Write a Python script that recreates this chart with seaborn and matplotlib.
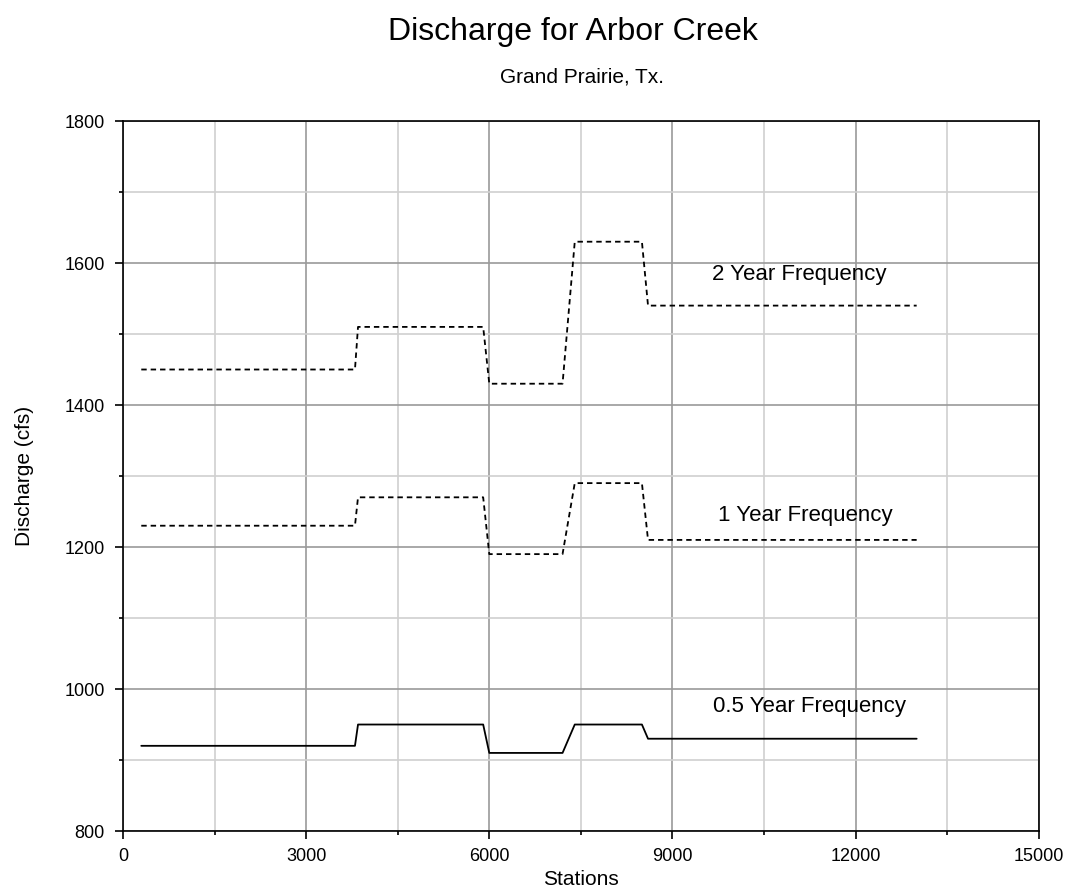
import matplotlib
matplotlib.use("Agg")
import matplotlib.pyplot as plt
from matplotlib.ticker import MultipleLocator
import seaborn as sns
import pandas as pd

stations = [300, 3800, 3850, 5900, 6000, 7200, 7400, 8500, 8600, 13000]
q_2yr = [1450, 1450, 1510, 1510, 1430, 1430, 1630, 1630, 1540, 1540]
q_1yr = [1230, 1230, 1270, 1270, 1190, 1190, 1290, 1290, 1210, 1210]
q_05yr = [920, 920, 950, 950, 910, 910, 950, 950, 930, 930]
series_names = ["2 Year Frequency", "1 Year Frequency", "0.5 Year Frequency"]
label_x = [11070, 11170, 11250]
label_y = [1584, 1244, 975]

sns.set_style("white")
plt.rcParams['font.family'] = ['Liberation Sans', 'DejaVu Sans']
plt.rcParams['text.color'] = 'black'
plt.rcParams['axes.labelcolor'] = 'black'
plt.rcParams['xtick.color'] = 'black'
plt.rcParams['ytick.color'] = 'black'

fig = plt.figure(figsize=(10.72, 8.93), dpi=100)
ax = fig.add_axes([0.1147, 0.0694, 0.969 - 0.1147, 0.8645 - 0.0694])

styles = [(0, (3, 2.2)), (0, (3, 2.2)), '-']
for name, vals, ls in zip(series_names, [q_2yr, q_1yr, q_05yr], styles):
    df = pd.DataFrame({"Stations": stations, "Discharge": vals})
    sns.lineplot(data=df, x="Stations", y="Discharge", ax=ax, color="black",
                 linewidth=1.3, linestyle=ls, sort=False, estimator=None)

for name, lx, ly in zip(series_names, label_x, label_y):
    ax.text(lx, ly, name, ha="center", va="center", fontsize=16, color="black")

ax.set_xlim(0, 15000)
ax.set_ylim(800, 1800)
ax.xaxis.set_major_locator(MultipleLocator(3000))
ax.xaxis.set_minor_locator(MultipleLocator(1500))
ax.yaxis.set_major_locator(MultipleLocator(200))
ax.yaxis.set_minor_locator(MultipleLocator(100))
ax.grid(which="major", color="#9a9a9a", linewidth=1.2)
ax.grid(which="minor", color="#d0d0d0", linewidth=1.2)
ax.set_axisbelow(True)
for s in ax.spines.values():
    s.set_color("black")
    s.set_linewidth(1.2)
ax.tick_params(which="major", direction="out", length=6, width=1.2, color="black",
               labelsize=13, left=True, bottom=True)
ax.tick_params(axis="y", which="major", pad=7)
ax.tick_params(axis="x", which="major", pad=6)
ax.tick_params(which="minor", direction="out", length=3, width=1.2, color="black",
               left=True, bottom=True)

ax.set_xlabel("Stations", fontsize=15, labelpad=4)
ax.set_ylabel("Discharge (cfs)", fontsize=15, labelpad=22)

fig.text(0.534, 0.9552, "Discharge for Arbor Creek", ha="center", va="baseline", fontsize=23)
fig.text(0.5425, 0.9071, "Grand Prairie, Tx.", ha="center", va="baseline", fontsize=15)

fig.savefig("out.png", dpi=100)
